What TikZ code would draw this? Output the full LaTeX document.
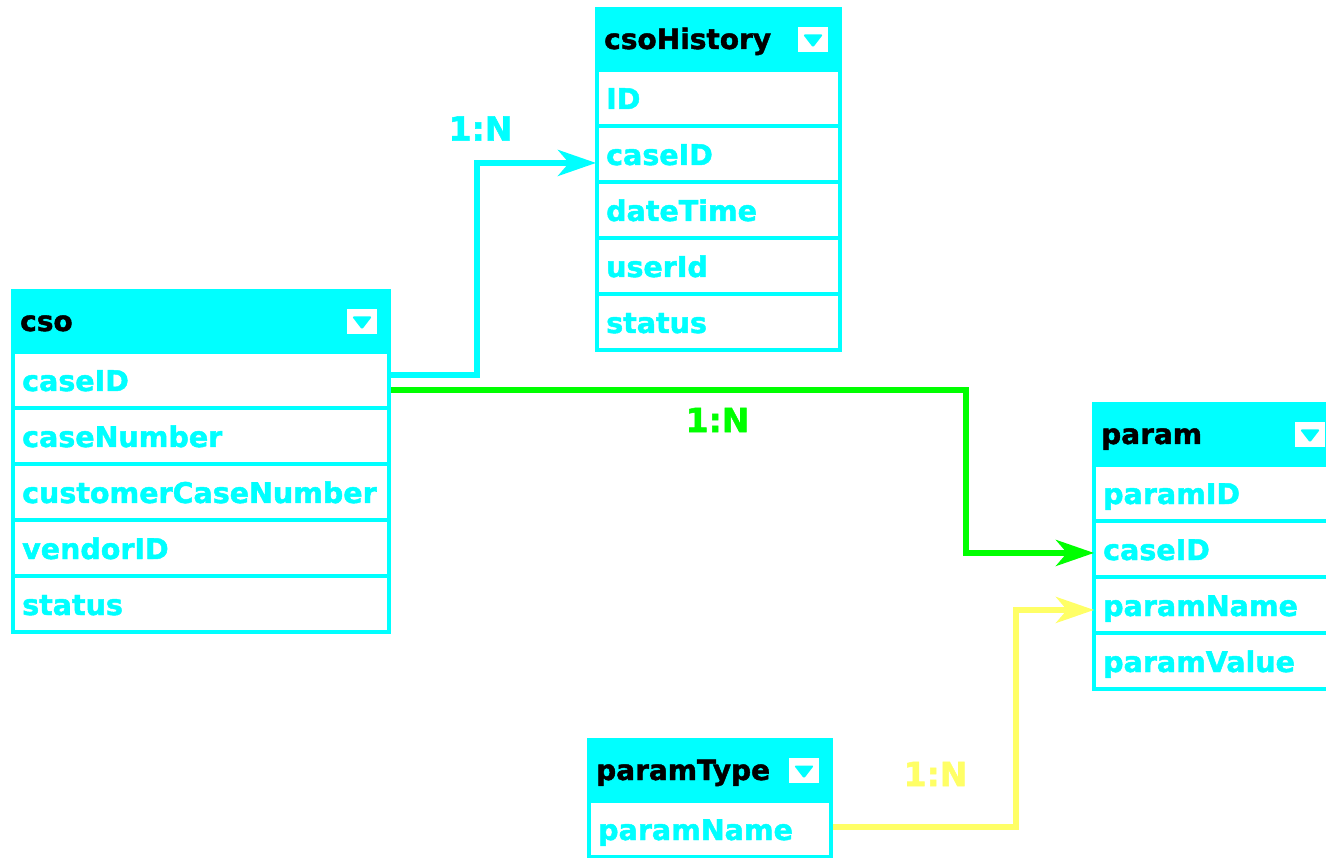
\documentclass[tikz,border=0pt]{standalone}
\usepackage{fontspec}
\setmainfont{DejaVu Sans}[BoldFeatures={FakeBold=1.6}]
\usetikzlibrary{arrows.meta}
\definecolor{cy}{HTML}{00FFFF}
\definecolor{gr}{HTML}{00FF00}
\definecolor{yl}{HTML}{FFFF66}
% #1 name, #2 left, #3 right, #4 top, #5 number of rows, #6 title, #7 rows
\newcommand\erTable[7]{%
  \fill[cy] (#2,#4) rectangle (#3,#4+65+56*#5);
  \node[headtext] (#1-title) at (#2+9,#4+42) {#6};
  \node[iconbox] (#1-menu) at (#3-29,#4+32.5) {};
  \fill[cy,rounded corners=1.5pt] ([xshift=-10pt,yshift=5pt]#1-menu.center) -- ([xshift=10pt,yshift=5pt]#1-menu.center) -- ([yshift=-8pt]#1-menu.center) -- cycle;
  \foreach \r [count=\k from 0] in {#7} {
    \node[rowbox,minimum width={#3-#2-8}] (#1-\r) at (#2+4,#4+65+56*\k) {};
    \node[rowtext] (#1-\r-text) at (#2+11,#4+65+56*\k+37) {\r};
  }%
}
\begin{document}
\begin{tikzpicture}[x=1pt,y=-1pt,
  headtext/.style={anchor=base west,inner sep=0pt,font=\fontsize{28}{34}\selectfont\bfseries,text=black},
  rowtext/.style={anchor=base west,inner sep=0pt,font=\fontsize{28.5}{34}\selectfont\bfseries,text=cy},
  rowbox/.style={anchor=north west,fill=white,draw=none,inner sep=0pt,minimum height=51.5pt},
  iconbox/.style={fill=white,draw=none,inner sep=0pt,minimum width=30pt,minimum height=25pt},
  conn/.style={line width=5.5pt,-{Stealth[length=38pt,width=26pt,inset=11pt]}},
  lbl/.style={inner sep=0pt,font=\fontsize{33}{38}\selectfont\bfseries}
]
\useasboundingbox (0,0) rectangle (1326,858);
\fill[white] (0,0) rectangle (1326,858);
\clip (0,0) rectangle (1326,858);

\erTable{csoHistory}{595}{842}{7}{5}{csoHistory}{ID,caseID,dateTime,userId,status}
\erTable{cso}{11}{391}{289}{5}{cso}{caseID,caseNumber,customerCaseNumber,vendorID,status}
\erTable{param}{1092}{1339}{402}{4}{param}{paramID,caseID,paramName,paramValue}
\erTable{paramType}{587}{833}{738}{1}{paramType}{paramName}

\draw[conn,cy] ([xshift=4pt,yshift=5pt]cso-caseID.east) -| ([xshift=-122pt,yshift=-9pt]csoHistory-caseID.west) -- ([xshift=-3pt,yshift=-9pt]csoHistory-caseID.west);
\draw[conn,gr] ([xshift=4pt,yshift=-10pt]cso-caseID.east) -| ([xshift=-130pt,yshift=-4pt]param-caseID.west) -- ([xshift=-2pt,yshift=-4pt]param-caseID.west);
\draw[conn,yl] ([xshift=4pt,yshift=2pt]paramType-paramName.east) -| ([xshift=-80pt,yshift=-5pt]param-paramName.west) -- ([xshift=-2pt,yshift=-5pt]param-paramName.west);

\node[lbl,text=cy] (lab1) at (480.5,128.5) {1:N};
\node[lbl,text=gr] (lab2) at (717.5,420) {1:N};
\node[lbl,text=yl] (lab3) at (935.5,774) {1:N};
\end{tikzpicture}
\end{document}
